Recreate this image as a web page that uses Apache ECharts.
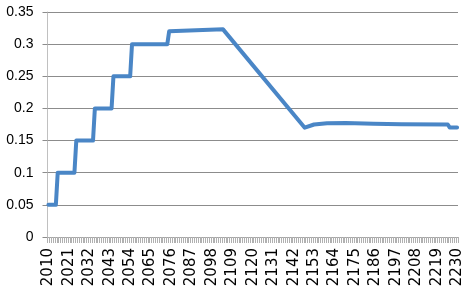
<!DOCTYPE html>
<html>
<head>
<meta charset="utf-8">
<script src="https://cdn.jsdelivr.net/npm/echarts@6/dist/echarts.min.js"></script>
<style>
html,body{margin:0;padding:0;background:#fff;}
#chart{width:467px;height:296px;}
</style>
</head>
<body>
<div id="chart"></div>
<script>
// Categories: every year 2010..2230
var firstYear = 2010;
var lastYear = 2230;
// Key points (year, value); the line joins them
var keyYears  = [2010, 2014, 2015, 2024, 2025, 2034, 2035, 2044, 2045, 2054, 2055, 2074, 2075, 2104, 2148, 2153, 2160, 2170, 2185, 2200, 2225, 2226, 2230];
var keyValues = [0.05, 0.05, 0.10, 0.10, 0.15, 0.15, 0.20, 0.20, 0.25, 0.25, 0.30, 0.30, 0.32, 0.323, 0.170, 0.175, 0.177, 0.1772, 0.176, 0.1755, 0.175, 0.1705, 0.1705];
var yTicks = [0, 0.05, 0.1, 0.15, 0.2, 0.25, 0.3, 0.35];

var years = [];
for (var y = firstYear; y <= lastYear; y++) years.push(String(y));
var seriesData = keyYears.map(function (yr, i) { return [String(yr), keyValues[i]]; });

var chart = echarts.init(document.getElementById('chart'), null, {renderer: 'canvas'});
chart.setOption({
  animation: false,
  backgroundColor: '#ffffff',
  grid: {left: 47.5, right: 9, top: 12, bottom: 59, containLabel: false},
  xAxis: {
    type: 'category',
    data: years,
    boundaryGap: true,
    axisLine: {show: true, lineStyle: {color: '#a6a6a6', width: 1}},
    axisTick: {show: true, interval: 0, length: 6, lineStyle: {color: '#b0b0b0', width: 1}},
    axisLabel: {
      interval: 10,
      rotate: 90,
      margin: 11,
      fontFamily: 'DejaVu Sans',
      fontSize: 15,
      color: '#000'
    },
    splitLine: {show: false}
  },
  yAxis: {
    type: 'value',
    min: yTicks[0],
    max: yTicks[yTicks.length - 1],
    interval: 0.05,
    axisLine: {show: true, lineStyle: {color: '#c0c0c0', width: 1}},
    axisTick: {show: true, length: 5, lineStyle: {color: '#8c8c8c'}},
    axisLabel: {
      margin: 14,
      fontFamily: 'Liberation Sans',
      fontSize: 14,
      color: '#000',
      formatter: function (v) { return String(Math.round(v * 100) / 100); }
    },
    splitLine: {show: true, lineStyle: {color: '#8c8c8c', width: 1}}
  },
  series: [{
    type: 'line',
    data: seriesData,
    showSymbol: false,
    symbol: 'none',
    lineStyle: {color: '#4a86c6', width: 4, join: 'round', cap: 'round'},
    itemStyle: {color: '#4a86c6'}
  }]
});
</script>
</body>
</html>
